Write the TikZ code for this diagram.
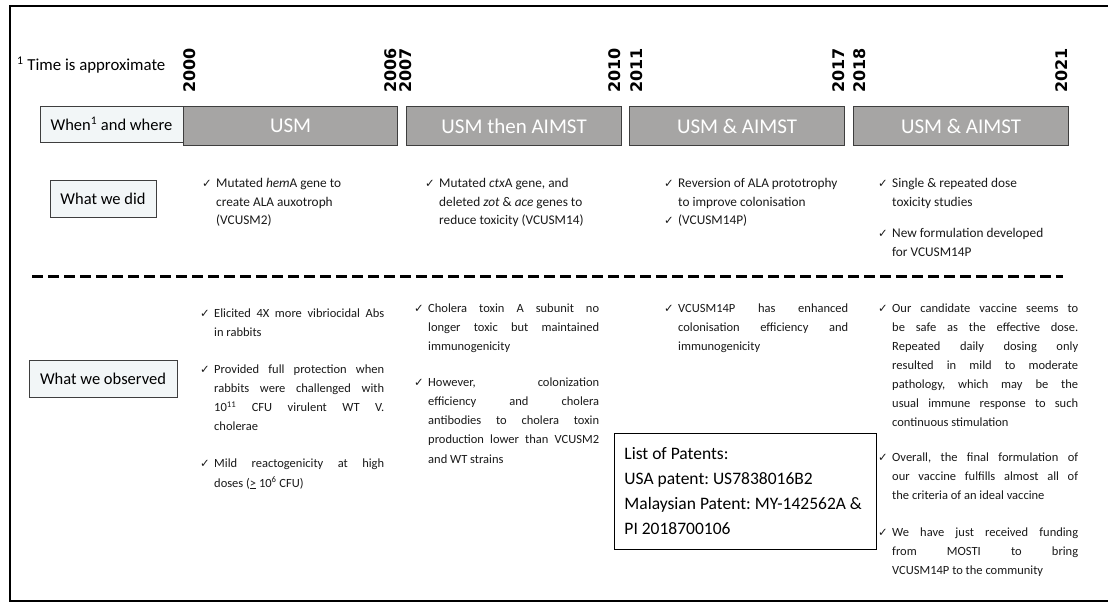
\documentclass[tikz,border=0pt]{standalone}
\usepackage{fontspec}
\setmainfont{Carlito}
\newfontfamily\yearfont{DejaVu Sans}
\newfontfamily\symfont{DejaVu Sans}
\setlength{\parindent}{0pt}
\frenchspacing

\definecolor{barfill}{RGB}{166,165,164}
\definecolor{bardraw}{RGB}{62,62,62}
\definecolor{labelfill}{RGB}{242,246,247}
\definecolor{bodytext}{RGB}{25,25,25}

% check-mark list lines
\newlength{\tickw}
\setlength{\tickw}{14pt}
\newcommand{\tickmark}{{\symfont\fontsize{11.5}{11.5}\selectfont ✓}}
\newcommand{\first}[1]{\par\spaceskip=0pt\xspaceskip=0pt\makebox[\tickw][l]{\tickmark}#1}
\newcommand{\more}[1]{\par\spaceskip=0pt\xspaceskip=0pt\hspace*{\tickw}#1}
\newcommand{\jl}[1]{\makebox[\dimexpr\hsize-\tickw\relax][s]{#1}}

\begin{document}
\begin{tikzpicture}[x=1pt, y=-1pt,
    bar/.style={draw=bardraw, fill=barfill, line width=1.2pt, anchor=north west,
      inner sep=0pt, minimum height=39pt, text=white, font=\fontsize{21}{21}\selectfont},
    year/.style={rotate=90, inner sep=0pt, font=\yearfont\bfseries\fontsize{16}{16}\selectfont},
    lbl/.style={draw=bardraw, fill=labelfill, line width=0.8pt, inner sep=0pt,
      font=\fontsize{16.5}{16.5}\selectfont},
    col/.style={anchor=north west, inner sep=0pt, text width=#1, align=left,
      text=bodytext, font=\fontsize{12.5}{19.1}\selectfont},
    didcol/.style={col=#1, font=\fontsize{13.3}{18.5}\selectfont},
    patent/.style={draw, line width=0.9pt, anchor=north west, inner xsep=10pt, inner ysep=0pt,
      minimum width=262pt, minimum height=116pt, text width=242pt, align=left,
      font=\fontsize{17.5}{25}\selectfont}]
    \useasboundingbox (0,0) rectangle (1108,605);
    \fill[white] (0,0) rectangle (1108,605);
    % frame
    \draw[line width=2.6pt] (1108,6) -- (10,6) -- (10,601) -- (1108,601);

    % footnote
    \node[anchor=west, inner sep=0pt, font=\fontsize{16.8}{16.8}\selectfont] (note) at (17,65)
      {\textsuperscript{1} Time is approximate};

    % years
    \foreach \yr/\xx/\anc in {2000/183/north west, 2006/397/south west, 2007/399/north west,
        2010/621/south west, 2011/630/north west, 2017/845/south west,
        2018/853/north west, 2021/1068/south west}
      \node[year, anchor=\anc] (y\yr) at (\xx,93) {\yr};

    % when and where
    \node[lbl, minimum width=143pt, minimum height=36pt] (when) at (111.5,124)
      {When\textsuperscript{1} and where};
    \node[bar, minimum width=214pt] (usm) at (183,106) {USM};
    \node[bar, minimum width=215pt] (usmthen) at (406,106) {USM then AIMST};
    \node[bar, minimum width=215pt] (usmaimst) at (629,106) {USM \& AIMST};
    \node[bar, minimum width=215pt] (usmaimstnew) at (853,106) {USM \& AIMST};

    % what we did
    \node[lbl, minimum width=106pt, minimum height=37pt] (did) at (103,198.5) {What we did};
    \node[didcol=200pt] (did1) at (202,169) {%
      \first{Mutated \textit{hem}A gene to}\more{create ALA auxotroph}\more{(VCUSM2)}};
    \node[didcol=200pt] (did2) at (425,169) {%
      \first{Mutated \textit{ctx}A gene, and}\more{deleted \textit{zot} \& \textit{ace} genes to}%
      \more{reduce toxicity (VCUSM14)}};
    \node[didcol=200pt] (did3) at (664,169) {%
      \first{Reversion of ALA prototrophy}\more{to improve colonisation}\first{(VCUSM14P)}};
    \node[didcol=200pt] (did4) at (878,169) {%
      \first{Single \& repeated dose}\more{toxicity studies}\par\vspace{13pt}%
      \first{New formulation developed}\more{for VCUSM14P}};

    % separator
    \draw[line width=3pt, dash pattern=on 11pt off 5pt] (32,276) -- (1063,276);

    % what we observed
    \node[lbl, minimum width=148pt, minimum height=37pt] (observed) at (103,378.5) {What we observed};
    \node[col=184pt] (obs1) at (200,298) {%
      \first{\jl{Elicited 4X more vibriocidal Abs}}\more{in rabbits}\par\vspace{18pt}%
      \first{\jl{Provided full protection when}}\more{\jl{rabbits were challenged with}}%
      \more{\jl{10\textsuperscript{11} CFU virulent WT V.}}\more{cholerae}\par\vspace{18pt}%
      \first{\jl{Mild reactogenicity at high}}\more{doses (\underline{>} 10\textsuperscript{6} CFU)}};
    \node[col=185pt] (obs2) at (414,293) {%
      \first{\jl{Cholera toxin A subunit no}}\more{\jl{longer toxic but maintained}}%
      \more{immunogenicity}\par\vspace{17pt}%
      \first{\jl{However, colonization}}\more{\jl{efficiency and cholera}}%
      \more{\jl{antibodies to cholera toxin}}\more{\jl{production lower than VCUSM2}}%
      \more{and WT strains}};
    \node[col=184pt] (obs3) at (664,293) {%
      \first{\jl{VCUSM14P has enhanced}}\more{\jl{colonisation efficiency and}}%
      \more{immunogenicity}};
    \node[col=200pt] (obs4) at (878,293) {%
      \first{\jl{Our candidate vaccine seems to}}\more{\jl{be safe as the effective dose.}}%
      \more{\jl{Repeated daily dosing only}}\more{\jl{resulted in mild to moderate}}%
      \more{\jl{pathology, which may be the}}\more{\jl{usual immune response to such}}%
      \more{continuous stimulation}\par\vspace{15pt}%
      \first{\jl{Overall, the final formulation of}}\more{\jl{our vaccine fulfills almost all of}}%
      \more{the criteria of an ideal vaccine}\par\vspace{18pt}%
      \first{\jl{We have just received funding}}\more{\jl{from MOSTI to bring}}%
      \more{VCUSM14P to the community}};

    % patents
    \node[patent] (patents) at (614,433) {\spaceskip=0pt\xspaceskip=0pt List of Patents:\\
      USA patent: US7838016B2\\Malaysian Patent: MY-142562A \&\\PI 2018700106};
\end{tikzpicture}
\end{document}
